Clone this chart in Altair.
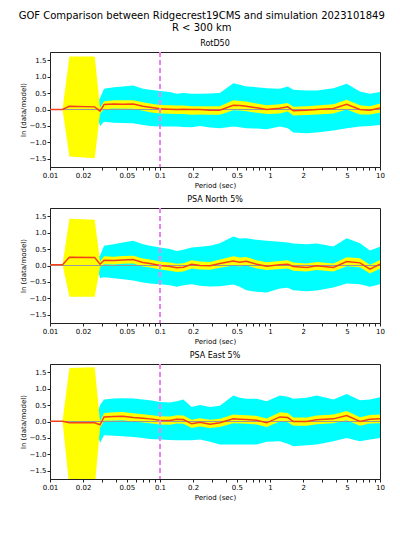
import altair as alt
import pandas as pd

# ---------------- data ----------------
periods = [0.01, 0.013, 0.015, 0.0255, 0.0285, 0.031, 0.038, 0.046, 0.057, 0.07,
           0.081, 0.1, 0.123, 0.142, 0.163, 0.194, 0.231, 0.285, 0.35, 0.464,
           0.53, 0.61, 0.757, 0.933, 1.23, 1.45, 1.63, 2.15, 2.66, 3.77,
           4.98, 6.58, 8.1, 10.0]

panel_titles = ["RotD50", "PSA North 5%", "PSA East 5%"]

# RotD50
rotd50_mean = [0.0, 0.0, 0.10, 0.08, -0.05, 0.15, 0.17, 0.16, 0.17, 0.10,
               0.07, 0.02, 0.01, 0.0, 0.01, 0.0, 0.0, -0.02, -0.02, 0.13,
               0.12, 0.10, 0.05, 0.0, 0.04, 0.08, -0.04, -0.02, 0.0, 0.03,
               0.16, 0.0, -0.02, 0.05]
rotd50_ylo = [0.0, 0.0, -1.43, -1.48, -0.12, 0.0, 0.03, 0.02, 0.02, -0.04,
              -0.08, -0.12, -0.13, -0.14, -0.14, -0.16, -0.15, -0.16, -0.16, -0.02,
              -0.03, -0.05, -0.10, -0.14, -0.12, -0.06, -0.18, -0.17, -0.15, -0.12,
              0.0, -0.15, -0.15, -0.10]
rotd50_yhi = [0.0, 0.0, 1.61, 1.61, 0.05, 0.25, 0.28, 0.28, 0.28, 0.22,
              0.18, 0.14, 0.13, 0.12, 0.12, 0.10, 0.10, 0.10, 0.10, 0.28,
              0.26, 0.24, 0.18, 0.13, 0.16, 0.20, 0.08, 0.10, 0.12, 0.16,
              0.30, 0.13, 0.10, 0.18]
rotd50_clo = [0.0, 0.0, 0.10, 0.08, -0.50, -0.37, -0.40, -0.41, -0.42, -0.47,
              -0.50, -0.52, -0.52, -0.52, -0.53, -0.54, -0.50, -0.55, -0.57, -0.52,
              -0.54, -0.57, -0.58, -0.60, -0.52, -0.57, -0.70, -0.72, -0.70, -0.64,
              -0.57, -0.52, -0.50, -0.47]
rotd50_chi = [0.0, 0.0, 0.10, 0.08, 0.35, 0.63, 0.68, 0.70, 0.73, 0.63,
              0.60, 0.56, 0.53, 0.48, 0.50, 0.48, 0.48, 0.49, 0.50, 0.80,
              0.75, 0.70, 0.68, 0.65, 0.63, 0.70, 0.60, 0.58, 0.58, 0.65,
              0.78, 0.55, 0.48, 0.53]

# PSA North 5%
north_mean = [0.02, 0.02, 0.25, 0.24, 0.04, 0.16, 0.15, 0.17, 0.18, 0.09,
              0.06, 0.0, -0.03, -0.07, -0.05, 0.04, 0.0, -0.01, 0.06, 0.14,
              0.10, 0.13, 0.04, -0.02, 0.02, 0.04, -0.03, -0.06, -0.01, -0.06,
              0.12, 0.08, -0.11, 0.04]
north_ylo = [0.02, 0.02, -0.95, -0.95, -0.05, 0.04, 0.03, 0.05, 0.06, -0.03,
             -0.06, -0.12, -0.16, -0.20, -0.18, -0.09, -0.12, -0.13, -0.07, 0.0,
             -0.03, 0.0, -0.09, -0.14, -0.11, -0.09, -0.16, -0.18, -0.14, -0.18,
             -0.02, -0.05, -0.24, -0.10]
north_yhi = [0.02, 0.02, 1.42, 1.39, 0.12, 0.28, 0.27, 0.29, 0.30, 0.21,
             0.18, 0.12, 0.09, 0.05, 0.07, 0.16, 0.12, 0.11, 0.18, 0.28,
             0.24, 0.26, 0.16, 0.10, 0.14, 0.16, 0.09, 0.06, 0.11, 0.06,
             0.25, 0.22, 0.02, 0.17]
north_clo = [0.02, 0.02, 0.25, 0.24, -0.38, -0.36, -0.39, -0.42, -0.46, -0.52,
             -0.55, -0.57, -0.60, -0.65, -0.60, -0.57, -0.62, -0.64, -0.63, -0.58,
             -0.65, -0.75, -0.80, -0.82, -0.70, -0.68, -0.75, -0.78, -0.76, -0.67,
             -0.55, -0.57, -0.65, -0.57]
north_chi = [0.02, 0.02, 0.25, 0.24, 0.30, 0.60, 0.65, 0.70, 0.75, 0.65,
             0.60, 0.55, 0.50, 0.44, 0.48, 0.55, 0.57, 0.60, 0.68, 0.88,
             0.82, 0.83, 0.78, 0.75, 0.72, 0.70, 0.67, 0.65, 0.67, 0.58,
             0.83, 0.68, 0.46, 0.57]

# PSA East 5%
east_mean = [0.01, 0.01, -0.04, -0.04, -0.10, 0.14, 0.15, 0.16, 0.12, 0.10,
             0.08, 0.04, 0.03, 0.07, 0.06, -0.07, -0.02, -0.08, -0.04, 0.08,
             0.07, 0.06, 0.04, -0.04, 0.14, 0.12, 0.0, 0.0, 0.05, 0.08,
             0.18, 0.0, 0.07, 0.08]
east_ylo = [0.01, 0.01, -2.0, -2.0, -0.20, 0.02, 0.03, 0.04, 0.0, -0.03,
            -0.05, -0.09, -0.10, -0.06, -0.07, -0.20, -0.15, -0.20, -0.17, -0.05,
            -0.06, -0.07, -0.09, -0.17, 0.0, -0.02, -0.13, -0.13, -0.08, -0.05,
            0.04, -0.13, -0.06, -0.05]
east_yhi = [0.01, 0.01, 1.63, 1.65, 0.0, 0.26, 0.28, 0.29, 0.25, 0.22,
            0.20, 0.16, 0.15, 0.19, 0.18, 0.05, 0.10, 0.05, 0.08, 0.21,
            0.20, 0.19, 0.17, 0.09, 0.28, 0.26, 0.12, 0.12, 0.18, 0.21,
            0.32, 0.13, 0.20, 0.21]
east_clo = [0.01, 0.01, -0.04, -0.04, -0.65, -0.42, -0.43, -0.45, -0.47, -0.50,
            -0.53, -0.55, -0.56, -0.57, -0.57, -0.57, -0.55, -0.62, -0.70, -0.70,
            -0.70, -0.70, -0.70, -0.62, -0.60, -0.68, -0.75, -0.72, -0.70, -0.60,
            -0.50, -0.60, -0.55, -0.50]
east_chi = [0.01, 0.01, -0.04, -0.04, 0.50, 0.67, 0.70, 0.71, 0.70, 0.67,
            0.65, 0.59, 0.58, 0.62, 0.67, 0.44, 0.50, 0.44, 0.48, 0.79,
            0.72, 0.69, 0.69, 0.62, 0.79, 0.75, 0.69, 0.72, 0.79, 0.67,
            0.84, 0.65, 0.67, 0.74]

x_tick_values = [0.01, 0.02, 0.03, 0.04, 0.05, 0.06, 0.07, 0.08, 0.09,
                 0.1, 0.2, 0.3, 0.4, 0.5, 0.6, 0.7, 0.8, 0.9,
                 1, 2, 3, 4, 5, 6, 7, 8, 9, 10]
x_major_labels = [0.01, 0.02, 0.05, 0.1, 0.2, 0.5, 1, 2, 5, 10]
y_tick_values = [-1.5, -1.0, -0.5, 0.0, 0.5, 1.0, 1.5]

FONT = "DejaVu Sans"

xscale = alt.Scale(type="log", domain=[0.01, 10], nice=False)
yscale = alt.Scale(domain=[-1.75, 1.75], nice=False, zero=False)

label_expr = ("indexof(" + str(x_major_labels) + ", datum.value) >= 0 ? "
              "format(datum.value, '~g') : ''")

xaxis = alt.Axis(values=x_tick_values, labelExpr=label_expr, title="Period (sec)",
                 grid=False, labelOverlap=False, labelFlush=False)
yaxis = alt.Axis(values=y_tick_values, format=".1f", title="ln (data/model)",
                 grid=False, labelOverlap=False, labelFlush=False)


def panel(title, mean, ylo, yhi, clo, chi):
    df = pd.DataFrame({"period": periods, "mean": mean, "ylo": ylo, "yhi": yhi,
                       "clo": clo, "chi": chi})
    base = alt.Chart(df).encode(x=alt.X("period:Q", scale=xscale, axis=xaxis))
    cyan = base.mark_area(color="#00ffff", clip=True, opacity=1).encode(
        y=alt.Y("clo:Q", scale=yscale, axis=yaxis), y2="chi:Q")
    yellow = base.mark_area(color="#ffff00", clip=True, opacity=1).encode(
        y=alt.Y("ylo:Q", scale=yscale, axis=yaxis), y2="yhi:Q")
    zero = base.mark_rule(color="#999999", strokeWidth=1.2).encode(
        x=alt.value(0), x2=alt.value(330),
        y=alt.YDatum(0, scale=yscale, axis=yaxis))
    red = base.mark_line(color="#f5401a", strokeWidth=1.5, clip=True).encode(
        y=alt.Y("mean:Q", scale=yscale, axis=yaxis))
    vline = base.mark_rule(color="#f080f0", strokeDash=[5, 3], strokeWidth=1.2).encode(
        x=alt.XDatum(0.1, scale=xscale, axis=xaxis), y=alt.value(0), y2=alt.value(115))
    return alt.layer(cyan, yellow, zero, red, vline).properties(
        width=330, height=115,
        title=alt.TitleParams(text=title, fontSize=8, fontWeight="normal", font=FONT,
                              offset=3, color="black"))


p1 = panel(panel_titles[0], rotd50_mean, rotd50_ylo, rotd50_yhi, rotd50_clo, rotd50_chi)
p2 = panel(panel_titles[1], north_mean, north_ylo, north_yhi, north_clo, north_chi)
p3 = panel(panel_titles[2], east_mean, east_ylo, east_yhi, east_clo, east_chi)

chart = alt.vconcat(p1, p2, p3, spacing=6).properties(
    title=alt.TitleParams(
        text=["GOF Comparison between Ridgecrest19CMS and simulation 2023101849",
              "R < 300 km"],
        fontSize=10, fontWeight="normal", font=FONT, anchor="middle",
        lineHeight=12, offset=7, color="black"),
    padding={"left": 10, "top": 2, "right": 2, "bottom": 2},
).configure_view(stroke="#222222", strokeWidth=1).configure_axis(
    labelFont=FONT, titleFont=FONT, labelFontSize=7, titleFontSize=7,
    titleFontWeight="normal", labelColor="black", titleColor="black",
    domainColor="#222222", tickColor="#222222", tickSize=3, labelPadding=1,
    titlePadding=3,
)

chart.save("out.html", embed_options={"renderer": "svg", "actions": False})
